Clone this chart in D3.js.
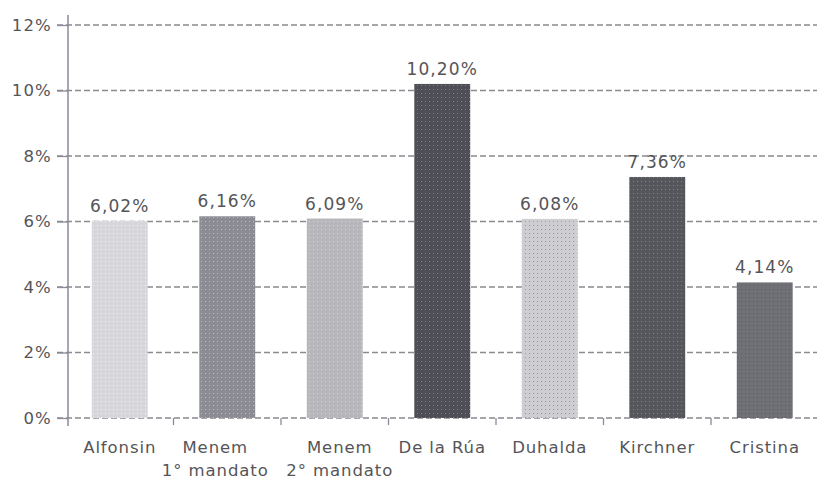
<!DOCTYPE html>
<html><head><meta charset="utf-8">
<script src="https://cdn.jsdelivr.net/npm/d3@7/dist/d3.min.js"></script>
<style>body{margin:0;background:#fff}svg{display:block}</style>
</head><body><svg id="c" width="817" height="479"></svg>
<script>
const categories = ["Alfonsin", "Menem\n1° mandato", "Menem\n2° mandato", "De la Rúa", "Duhalda", "Kirchner", "Cristina"];
const values = [6.02, 6.16, 6.09, 10.20, 6.08, 7.36, 4.14];
const valueLabels = ["6,02%", "6,16%", "6,09%", "10,20%", "6,08%", "7,36%", "4,14%"];
const yTicks = [0, 2, 4, 6, 8, 10, 12];
const yTickLabels = ["0%", "2%", "4%", "6%", "8%", "10%", "12%"];
const fills = ["#d6d6db", "#8c8c94", "#b6b6bb", "#4e4e56", "#cdcdd2", "#56565d", "#707077"];
const dots = ["#f0f6fb", "#b0c4d4", "#d8d8e0", "#85858e", "#8c8cb0", "#86868f", "#55555f"];

const svg = d3.select("#c");
const m = {left: 66, right: 0, top: 25, bottom: 61};
const W = 817, H = 479;
const x = d3.scaleBand().domain(categories).range([m.left, m.left + 7 * 107.5]).paddingInner(0.48).paddingOuter(0.24);
const y = d3.scaleLinear().domain([0, 12]).range([H - m.bottom, m.top]);

const defs = svg.append("defs");
fills.forEach((f, i) => {
  const p = defs.append("pattern").attr("id", "p" + i).attr("patternUnits", "userSpaceOnUse")
    .attr("width", 4).attr("height", 4);
  p.append("rect").attr("width", 4).attr("height", 4).attr("fill", f);
  p.append("rect").attr("x", 1).attr("y", 1).attr("width", 1).attr("height", 1).attr("fill", dots[i]).attr("opacity", 0.9);
});

const font = "'DejaVu Sans', sans-serif";
const axisCol = "#8a8a98";
const txtCol = "#555558";

// grid
svg.append("g").selectAll("line").data(yTicks).join("line")
  .attr("x1", 57).attr("x2", W).attr("y1", d => y(d)).attr("y2", d => y(d))
  .attr("stroke", "#8a8a90").attr("stroke-width", 1.3).attr("stroke-dasharray", "6,3");

// y axis
const yAxis = d3.axisLeft(y).tickValues(yTicks).tickFormat((d, i) => yTickLabels[i]).tickSize(11).tickPadding(5);
const ga = svg.append("g").attr("transform", "translate(68,0)").call(yAxis);
ga.select(".domain").remove();
ga.selectAll(".tick line").attr("stroke", axisCol).attr("stroke-width", 1.3);
ga.selectAll(".tick text").attr("font-family", font).attr("font-size", 16.5).attr("letter-spacing", 1.2).attr("fill", txtCol);
svg.append("line").attr("x1", 68).attr("x2", 68).attr("y1", 15).attr("y2", y(0) + 8)
  .attr("stroke", axisCol).attr("stroke-width", 1.5);

// bars
svg.append("g").selectAll("rect").data(values).join("rect")
  .attr("x", (d, i) => x(categories[i])).attr("width", x.bandwidth())
  .attr("y", d => y(d)).attr("height", d => y(0) - y(d))
  .attr("fill", (d, i) => "url(#p" + i + ")");

// x ticks between categories
svg.append("g").selectAll("line").data(categories.slice(1)).join("line")
  .attr("x1", d => x(d) - x.step() * x.paddingInner() / 2).attr("x2", d => x(d) - x.step() * x.paddingInner() / 2)
  .attr("y1", y(0)).attr("y2", y(0) + 7).attr("stroke", axisCol).attr("stroke-width", 1.3);

// value labels
svg.append("g").selectAll("text").data(values).join("text")
  .attr("x", (d, i) => x(categories[i]) + x.bandwidth() / 2).attr("y", d => y(d) - 9)
  .attr("text-anchor", "middle").attr("font-family", font).attr("font-size", 17).attr("letter-spacing", 1.1).attr("fill", txtCol)
  .text((d, i) => valueLabels[i]);

// category labels (two-line labels nudged apart so they do not collide)
const nudge = (i) => i === 1 ? -12 : i === 2 ? 5 : 0;
const cl = svg.append("g").selectAll("text").data(categories).join("text")
  .attr("x", (d, i) => x(d) + x.bandwidth() / 2 + nudge(i)).attr("y", 453)
  .attr("text-anchor", "middle").attr("font-family", font).attr("font-size", 16.5).attr("letter-spacing", 0.9).attr("fill", txtCol);
cl.each(function(d) {
  const t = d3.select(this);
  d.split("\n").forEach((s, k) => t.append("tspan").attr("x", t.attr("x")).attr("dy", k ? 23 : 0).text(s));
});
</script></body></html>
